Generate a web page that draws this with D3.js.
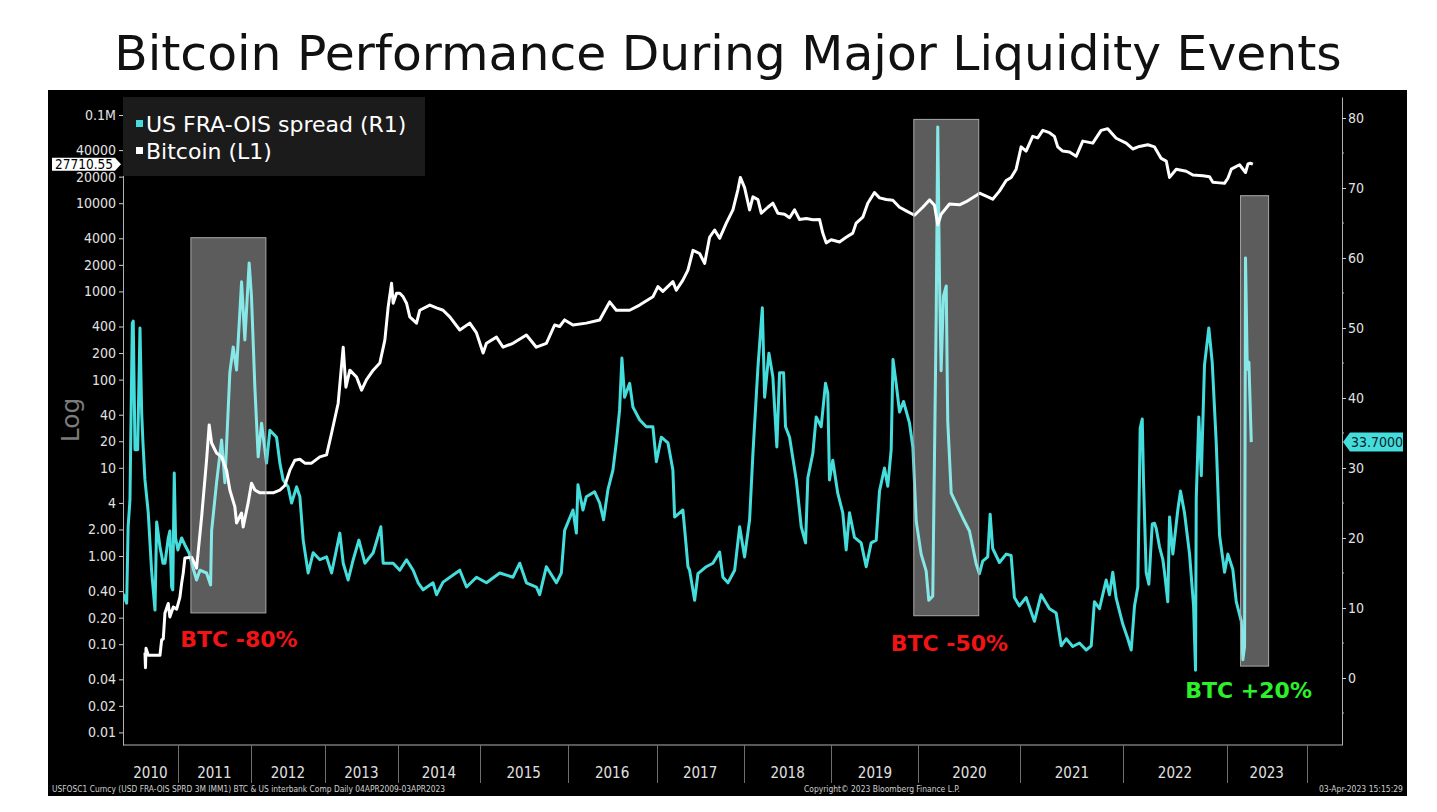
<!DOCTYPE html>
<html>
<head>
<meta charset="utf-8">
<script src="https://cdn.jsdelivr.net/npm/d3@7"></script>
<style>
  html, body { margin: 0; padding: 0; background: #ffffff; }
  svg { display: block; }
</style>
</head>
<body>
<svg id="chart" width="1437" height="812"></svg>
<script>
// ---------------- DATA ----------------
const chartTitle = "Bitcoin Performance During Major Liquidity Events";
const seriesNames = ["US FRA-OIS spread (R1)", "Bitcoin (L1)"];

// x axis: the terminal spaces observations evenly, so each year's width follows its observation count
const axisBreaks = [2010.25, 2011, 2012, 2013, 2014, 2015, 2016, 2017, 2018, 2019, 2020, 2021, 2022, 2023, 2024.12];
const obsPerSegment = [195, 259, 263, 259, 291, 312, 316, 309, 312, 309, 362, 366, 366, 410];
const yearLabels = [2010, 2011, 2012, 2013, 2014, 2015, 2016, 2017, 2018, 2019, 2020, 2021, 2022, 2023];
const yearBandEdges = [2010.25, 2011, 2012, 2013, 2014, 2015, 2016, 2017, 2018, 2019, 2020, 2021, 2022, 2023, 2023.78];

// left (log) axis
const leftDomain = [0.0072, 160000];
const leftTickValues = [0.01, 0.02, 0.04, 0.1, 0.2, 0.4, 1, 2, 4, 10, 20, 40, 100, 200, 400, 1000, 2000, 4000, 10000, 20000, 40000, 100000];
const leftTickLabels = ["0.01", "0.02", "0.04", "0.10", "0.20", "0.40", "1.00", "2.00", "4", "10", "20", "40", "100", "200", "400", "1000", "2000", "4000", "10000", "20000", "40000", "0.1M"];

// right (linear) axis
const rightDomain = [-9.57, 83];
const rightTickValues = [0, 10, 20, 30, 40, 50, 60, 70, 80];
const rightMinorTicks = [-5, 5, 15, 25, 35, 45, 55, 65, 75];

// US FRA-OIS spread, bp  [decimal year, value]
const fraSeries = [
[2010.254,12.0],[2010.30,10.7],[2010.32,21.6],[2010.345,25.4],[2010.377,50.7],[2010.39,51],[2010.414,32.6],[2010.45,32.6],[2010.482,50],[2010.505,37.9],[2010.523,33.5],[2010.55,28.3],[2010.595,23.6],[2010.64,15.4],[2010.687,9.7],[2010.71,22.3],[2010.755,18.7],[2010.778,17.5],[2010.796,16.4],[2010.823,16.4],[2010.868,20],[2010.89,21],[2010.914,13],[2010.93,12.6],[2010.95,29.3],[2010.968,20],[2011.0,18.3],
[2011.051,20],[2011.096,19],[2011.151,17.9],[2011.188,16.4],[2011.256,14],[2011.301,15.4],[2011.393,15],[2011.448,13.3],[2011.462,21],[2011.53,27.9],[2011.599,34],[2011.644,27.9],[2011.712,43.6],[2011.758,47.3],[2011.804,44],[2011.873,56.6],[2011.918,48.3],[2011.977,59.3],
[2012.009,54.4],[2012.054,41.6],[2012.099,31.6],[2012.145,36.4],[2012.212,30.7],[2012.257,35.4],[2012.347,34.4],[2012.392,30.7],[2012.436,28.3],[2012.504,27.3],[2012.55,25],[2012.618,27.3],[2012.662,25.9],[2012.707,19.7],[2012.774,15],[2012.842,17.9],[2012.932,16.9],
[2013.023,17.3],[2013.092,15],[2013.205,20.7],[2013.251,16.4],[2013.319,14],[2013.388,16.9],[2013.466,19.7],[2013.548,16.4],[2013.662,17.9],[2013.767,21.6],[2013.799,16.4],[2013.936,16.4],
[2014.024,15.4],[2014.106,16.9],[2014.187,15.4],[2014.248,13.6],[2014.309,12.6],[2014.43,13.6],[2014.472,11.9],[2014.552,13.7],[2014.756,15.4],[2014.838,13],[2014.96,14.4],
[2015.076,13.6],[2015.227,15],[2015.378,14.4],[2015.455,16.4],[2015.531,13.6],[2015.644,13],[2015.682,11.9],[2015.758,15.9],[2015.872,13.6],[2015.928,15],[2015.966,21.1],
[2016.06,24],[2016.098,20.7],[2016.116,27.6],[2016.172,24],[2016.21,25.9],[2016.303,26.6],[2016.36,25],[2016.404,22.6],[2016.453,26.9],[2016.509,29.7],[2016.547,33.6],[2016.584,38.3],[2016.61,45.7],[2016.64,40.1],[2016.697,42.1],[2016.734,38.7],[2016.809,36.9],[2016.884,35.9],[2016.958,35.9],[2016.997,30.9],
[2017.054,34.4],[2017.13,33.6],[2017.187,29.7],[2017.207,23],[2017.264,23.6],[2017.302,24],[2017.341,18.7],[2017.36,15.9],[2017.379,15.4],[2017.437,11.1],[2017.475,14.9],[2017.571,15.9],[2017.647,16.4],[2017.724,18],[2017.762,14.4],[2017.82,13.6],[2017.897,15.4],[2017.954,21.6],
[2018.011,17.3],[2018.068,22.6],[2018.106,32.1],[2018.163,44.4],[2018.213,52.9],[2018.239,40.1],[2018.288,46.4],[2018.333,43],[2018.378,33],[2018.409,43.6],[2018.455,43.6],[2018.477,35.9],[2018.523,34.4],[2018.599,28.3],[2018.656,21.6],[2018.705,19.3],[2018.731,28.6],[2018.788,32.1],[2018.826,37.3],[2018.883,35.9],[2018.932,42.1],[2018.958,40.7],[2018.977,28.3],
[2019.015,31.1],[2019.072,26.4],[2019.13,23.6],[2019.169,18.3],[2019.207,23.6],[2019.264,20.1],[2019.341,19.3],[2019.399,15.9],[2019.456,19.3],[2019.514,19.7],[2019.552,26.7],[2019.609,30],[2019.647,27.4],[2019.686,32.6],[2019.707,45.5],[2019.744,42],[2019.782,38],[2019.828,39.5],[2019.897,36.4],[2019.935,33],[2019.974,22.4],
[2020.026,17.7],[2020.075,15.3],[2020.101,11.1],[2020.14,11.7],[2020.157,31.6],[2020.174,52],[2020.189,78.7],[2020.206,57],[2020.222,43.9],[2020.245,54.6],[2020.272,56],[2020.287,36.7],[2020.321,26.4],[2020.37,24.9],[2020.434,22.9],[2020.5,21],[2020.566,16.3],[2020.598,14.9],[2020.63,16.7],[2020.679,17.3],[2020.703,23.4],[2020.728,18.5],[2020.794,16.5],[2020.86,17.7],[2020.909,17.5],[2020.941,11.5],[2020.99,10.3],
[2021.055,11.5],[2021.136,8.1],[2021.201,11.9],[2021.282,9.9],[2021.347,9.3],[2021.396,4.6],[2021.444,5.6],[2021.508,4.5],[2021.573,5],[2021.638,4],[2021.687,4.6],[2021.718,10.9],[2021.767,9.9],[2021.832,14],[2021.864,11.9],[2021.896,15.1],[2021.929,11.4],[2021.993,7.7],
[2022.042,5.6],[2022.075,4],[2022.107,10.3],[2022.139,13],[2022.162,35.7],[2022.182,37],[2022.194,28.3],[2022.22,15.1],[2022.246,13.4],[2022.279,22],[2022.301,22.1],[2022.317,21.4],[2022.35,18.7],[2022.382,16.9],[2022.398,15.1],[2022.43,10.9],[2022.447,23],[2022.479,17.7],[2022.527,24],[2022.553,26.7],[2022.592,23.6],[2022.641,17.7],[2022.68,10.3],[2022.699,1.1],[2022.706,25.7],[2022.731,37.3],[2022.755,28.9],[2022.786,44.7],[2022.828,50],[2022.861,45.1],[2022.9,33.6],[2022.932,20.4],[2022.981,15.1],
[2023.013,17.7],[2023.061,15.5],[2023.094,10.9],[2023.143,8.1],[2023.158,2.6],[2023.175,4.5],[2023.184,60],[2023.201,44.1],[2023.217,45.1],[2023.24,33.7]
];

// Bitcoin, USD  [decimal year, value]
const btcSeries = [
[2010.55,0.08],[2010.557,0.054],[2010.564,0.09],[2010.595,0.075],[2010.755,0.075],[2010.778,0.112],[2010.8,0.115],[2010.823,0.226],[2010.868,0.29],[2010.89,0.204],[2010.937,0.264],[2010.983,0.25],
[2011.027,0.34],[2011.051,0.49],[2011.073,0.64],[2011.096,0.95],[2011.188,0.97],[2011.256,0.73],[2011.325,2.77],[2011.393,12.2],[2011.429,30.6],[2011.462,19.1],[2011.53,14.7],[2011.599,13.3],[2011.667,9.4],[2011.712,5.6],[2011.781,3.6],[2011.804,2.37],[2011.873,3.07],[2011.895,2.13],[2011.963,4],
[2012.009,6.7],[2012.054,5.6],[2012.122,5.2],[2012.212,5.2],[2012.301,5.2],[2012.392,5.6],[2012.459,6.3],[2012.527,9.4],[2012.595,12.2],[2012.662,12.5],[2012.73,11.3],[2012.82,11.3],[2012.932,13.3],
[2013.023,14],[2013.092,24.8],[2013.182,54],[2013.251,233],[2013.288,82],[2013.342,128],[2013.434,107],[2013.503,76],[2013.571,100],[2013.662,128],[2013.753,154],[2013.822,280],[2013.867,664],[2013.914,1240],[2013.936,735],[2013.982,955],
[2014.024,955],[2014.065,868],[2014.106,735],[2014.146,515],[2014.228,437],[2014.268,612],[2014.39,700],[2014.472,650],[2014.552,612],[2014.634,515],[2014.756,365],[2014.878,437],[2014.96,338],
[2015.038,200],[2015.076,258],[2015.19,303],[2015.265,233],[2015.378,258],[2015.531,320],[2015.644,233],[2015.758,258],[2015.852,416],[2015.909,400],[2015.966,475],
[2016.06,416],[2016.21,437],[2016.36,475],[2016.472,760],[2016.547,612],[2016.697,612],[2016.809,700],[2016.958,868],
[2017.015,1135],[2017.072,1000],[2017.187,1290],[2017.226,1030],[2017.302,1340],[2017.36,1740],[2017.418,2920],[2017.494,2690],[2017.552,2080],[2017.609,4110],[2017.667,4970],[2017.724,4000],[2017.801,5950],[2017.877,8400],[2017.934,14200],[2017.962,19600],
[2018.011,15000],[2018.068,8400],[2018.106,11800],[2018.163,11000],[2018.201,7700],[2018.276,9000],[2018.333,10000],[2018.39,7700],[2018.466,7500],[2018.523,6840],[2018.58,8400],[2018.636,6540],[2018.713,6700],[2018.788,6500],[2018.864,6540],[2018.901,4580],[2018.94,3550],[2018.997,3850],
[2019.092,3630],[2019.169,4110],[2019.245,4580],[2019.284,5950],[2019.36,6950],[2019.417,10000],[2019.494,13200],[2019.552,11500],[2019.629,11000],[2019.705,10800],[2019.782,9000],[2019.859,8200],[2019.954,7300],
[2020.042,9000],[2020.108,10900],[2020.157,9500],[2020.189,5700],[2020.222,7500],[2020.304,9800],[2020.402,9600],[2020.468,10400],[2020.566,12200],[2020.598,13000],[2020.664,12000],[2020.728,11100],[2020.794,13700],[2020.86,18100],[2020.909,19600],[2020.958,24300],
[2021.007,43500],[2021.055,39000],[2021.119,57300],[2021.168,55000],[2021.217,67000],[2021.282,63000],[2021.33,57300],[2021.362,43500],[2021.41,39000],[2021.476,38000],[2021.541,34000],[2021.605,50600],[2021.702,48000],[2021.783,67000],[2021.847,70000],[2021.929,54500],
[2022.026,48000],[2022.09,41200],[2022.155,44000],[2022.236,46000],[2022.301,43500],[2022.366,32200],[2022.415,30000],[2022.447,19600],[2022.512,24300],[2022.609,23000],[2022.673,20900],[2022.77,20500],[2022.835,20000],[2022.867,17300],[2022.932,17000],[2022.98,16800],
[2023.013,19200],[2023.046,24300],[2023.126,27300],[2023.184,22300],[2023.207,27800],[2023.23,28400],[2023.255,27710.55]
];

// highlighted liquidity events (x in decimal years, y in right-axis units)
const events = [
  { start: 2011.178, end: 2012.203, top: 62.9, bottom: 9.3, label: "BTC -80%", labelDate: 2011.836, labelValue: 5.6 },
  { start: 2019.946, end: 2020.591, top: 79.8, bottom: 8.9, label: "BTC -50%", labelDate: 2020.304, labelValue: 5.0 },
  { start: 2023.136, end: 2023.408, top: 68.9, bottom: 1.7, label: "BTC +20%", labelDate: 2023.214, labelValue: -1.7 }
];

const footerLeft = "USFOSC1 Curncy (USD FRA-OIS SPRD 3M IMM1) BTC & US interbank Comp  Daily 04APR2009-03APR2023";
const footerCenter = "Copyright\u00A9 2023 Bloomberg Finance L.P.";
const footerRight = "03-Apr-2023 15:15:29";

// ---------------- LAYOUT / STYLE ----------------
const panel = { x0: 48, y0: 90, x1: 1407, y1: 796 };
const plot = { left: 123, right: 1342, top: 97, bottom: 745 };
const CYAN = "#45dcdc";
const condensed = "'DejaVu Sans Condensed', 'Liberation Sans Narrow', 'DejaVu Sans', sans-serif";
const regular = "'DejaVu Sans', 'Liberation Sans', sans-serif";

const svg = d3.select("#chart");

// scales
const cum = [0];
obsPerSegment.forEach(c => cum.push(cum[cum.length - 1] + c));
const obsToPx = d3.scaleLinear().domain([0, cum[cum.length - 1]]).range([plot.left, plot.right]);
const x = d3.scaleLinear().domain(axisBreaks).range(cum.map(c => obsToPx(c)));
const yL = d3.scaleLog().domain(leftDomain).range([plot.bottom, plot.top]);
const yR = d3.scaleLinear().domain(rightDomain).range([plot.bottom, plot.top]);

// title
svg.append("text")
  .attr("x", 728).attr("y", 70)
  .attr("text-anchor", "middle")
  .attr("font-family", regular)
  .attr("font-size", 48.8)
  .attr("fill", "#111")
  .text(chartTitle);

// black panel
svg.append("rect")
  .attr("x", panel.x0).attr("y", panel.y0)
  .attr("width", panel.x1 - panel.x0).attr("height", panel.y1 - panel.y0)
  .attr("fill", "#000");

// clip
svg.append("clipPath").attr("id", "plotclip")
  .append("rect")
  .attr("x", plot.left).attr("y", plot.top)
  .attr("width", plot.right - plot.left).attr("height", plot.bottom - plot.top);

// lines
const g = svg.append("g").attr("clip-path", "url(#plotclip)");
const lineR = d3.line().x(d => x(d[0])).y(d => yR(d[1]));
const lineL = d3.line().x(d => x(d[0])).y(d => yL(d[1]));

g.append("path").datum(fraSeries)
  .attr("d", lineR)
  .attr("fill", "none").attr("stroke", CYAN)
  .attr("stroke-width", 3).attr("stroke-linejoin", "round");

g.append("path").datum(btcSeries)
  .attr("d", lineL)
  .attr("fill", "none").attr("stroke", "#ffffff")
  .attr("stroke-width", 3).attr("stroke-linejoin", "round");

// event boxes (translucent overlays)
g.selectAll("rect.event").data(events).enter().append("rect")
  .attr("class", "event")
  .attr("x", d => x(d.start))
  .attr("y", d => yR(d.top))
  .attr("width", d => x(d.end) - x(d.start))
  .attr("height", d => yR(d.bottom) - yR(d.top))
  .attr("fill", "rgba(255,255,255,0.36)")
  .attr("stroke", "#a8a8a8").attr("stroke-width", 1);

svg.selectAll("text.evlabel").data(events).enter().append("text")
  .attr("class", "evlabel")
  .attr("x", d => x(d.labelDate))
  .attr("y", d => yR(d.labelValue))
  .attr("dy", "0.36em")
  .attr("text-anchor", "middle")
  .attr("font-family", regular)
  .attr("font-weight", "bold")
  .attr("font-size", 22)
  .attr("fill", d => d.label.includes("+") ? "#2cf02c" : "#f01414")
  .text(d => d.label);

// left axis
const axL = svg.append("g").attr("transform", `translate(${plot.left},0)`)
  .call(d3.axisLeft(yL).tickValues(leftTickValues)
    .tickFormat((d, i) => leftTickLabels[i]).tickSize(4).tickSizeOuter(0).tickPadding(3));
axL.select(".domain").attr("stroke", "#b0b0b0");
axL.selectAll(".tick line").attr("stroke", "#d0d0d0");
axL.selectAll(".tick text").attr("fill", "#e2e2e2")
  .attr("font-family", condensed).attr("font-size", 14);

// right axis
const axR = svg.append("g").attr("transform", `translate(${plot.right},0)`)
  .call(d3.axisRight(yR).tickValues(rightTickValues).tickSize(4).tickSizeOuter(0).tickPadding(2));
axR.select(".domain").attr("stroke", "#b0b0b0");
axR.selectAll(".tick line").attr("stroke", "#d0d0d0");
axR.selectAll(".tick text").attr("fill", "#e2e2e2")
  .attr("font-family", condensed).attr("font-size", 14);
axR.selectAll("line.minor").data(rightMinorTicks).enter().append("line")
  .attr("class", "minor")
  .attr("x1", 0).attr("x2", 2)
  .attr("y1", d => yR(d)).attr("y2", d => yR(d))
  .attr("stroke", "#b0b0b0");

// bottom frame line
svg.append("line")
  .attr("x1", plot.left).attr("x2", plot.right)
  .attr("y1", plot.bottom).attr("y2", plot.bottom)
  .attr("stroke", "#b0b0b0");

// year band
const band = svg.append("g");
band.selectAll("line").data(yearBandEdges.slice(1)).enter().append("line")
  .attr("x1", d => Math.round(x(d)) + 0.5).attr("x2", d => Math.round(x(d)) + 0.5)
  .attr("y1", plot.bottom).attr("y2", plot.bottom + 38)
  .attr("stroke", "#6e6e6e");
band.selectAll("text").data(yearLabels).enter().append("text")
  .attr("x", (d, i) => (x(yearBandEdges[i]) + x(yearBandEdges[i + 1])) / 2)
  .attr("y", 778)
  .attr("text-anchor", "middle")
  .attr("font-family", condensed).attr("font-size", 15)
  .attr("fill", "#e0e0e0")
  .text(d => d);

// "Log" label
svg.append("text")
  .attr("transform", "translate(79,420) rotate(-90)")
  .attr("text-anchor", "middle")
  .attr("font-family", regular).attr("font-size", 25)
  .attr("fill", "#7c7c7c")
  .text("Log");

// legend
const leg = svg.append("g");
leg.append("rect")
  .attr("x", plot.left).attr("y", plot.top)
  .attr("width", 302).attr("height", 79)
  .attr("fill", "#1b1b1b");
const legColors = [CYAN, "#ffffff"];
seriesNames.forEach((name, i) => {
  const base = 132 + i * 27;
  leg.append("rect").attr("x", 136).attr("y", base - 12).attr("width", 7).attr("height", 7)
    .attr("fill", legColors[i]);
  leg.append("text").attr("x", 146).attr("y", base)
    .attr("font-family", regular).attr("font-size", 22)
    .attr("fill", "#ffffff").text(name);
});

// last-value tags
const lastBtc = btcSeries[btcSeries.length - 1][1];
const yb = yL(lastBtc);
svg.append("path")
  .attr("d", `M${plot.left - 71},${yb - 6.5} H${plot.left - 8} L${plot.left - 2},${yb} L${plot.left - 8},${yb + 6.5} H${plot.left - 71} Z`)
  .attr("fill", "#ffffff");
svg.append("text")
  .attr("x", plot.left - 39).attr("y", yb).attr("dy", "0.35em")
  .attr("text-anchor", "middle")
  .attr("font-family", condensed).attr("font-size", 13.5)
  .attr("fill", "#000").text(d3.format(".2f")(lastBtc));

const lastFra = fraSeries[fraSeries.length - 1][1];
const yf = yR(lastFra);
svg.append("path")
  .attr("d", `M${plot.right + 1},${yf} L${plot.right + 8},${yf - 9.5} H${plot.right + 61} V${yf + 9.5} H${plot.right + 8} Z`)
  .attr("fill", CYAN);
svg.append("text")
  .attr("x", plot.right + 35).attr("y", yf).attr("dy", "0.36em")
  .attr("text-anchor", "middle")
  .attr("font-family", condensed).attr("font-size", 14)
  .attr("fill", "#0b1f2a").text(d3.format(".4f")(lastFra));

// footer
const foot = svg.append("g").attr("font-family", condensed).attr("font-size", 9).attr("fill", "#d0d0d0");
foot.append("text").attr("x", 52).attr("y", 792)
  .attr("textLength", 393).attr("lengthAdjust", "spacingAndGlyphs").text(footerLeft);
foot.append("text").attr("x", 804).attr("y", 792)
  .attr("textLength", 156).attr("lengthAdjust", "spacingAndGlyphs").text(footerCenter);
foot.append("text").attr("x", 1319).attr("y", 792)
  .attr("textLength", 84).attr("lengthAdjust", "spacingAndGlyphs").text(footerRight);
</script>
</body>
</html>
